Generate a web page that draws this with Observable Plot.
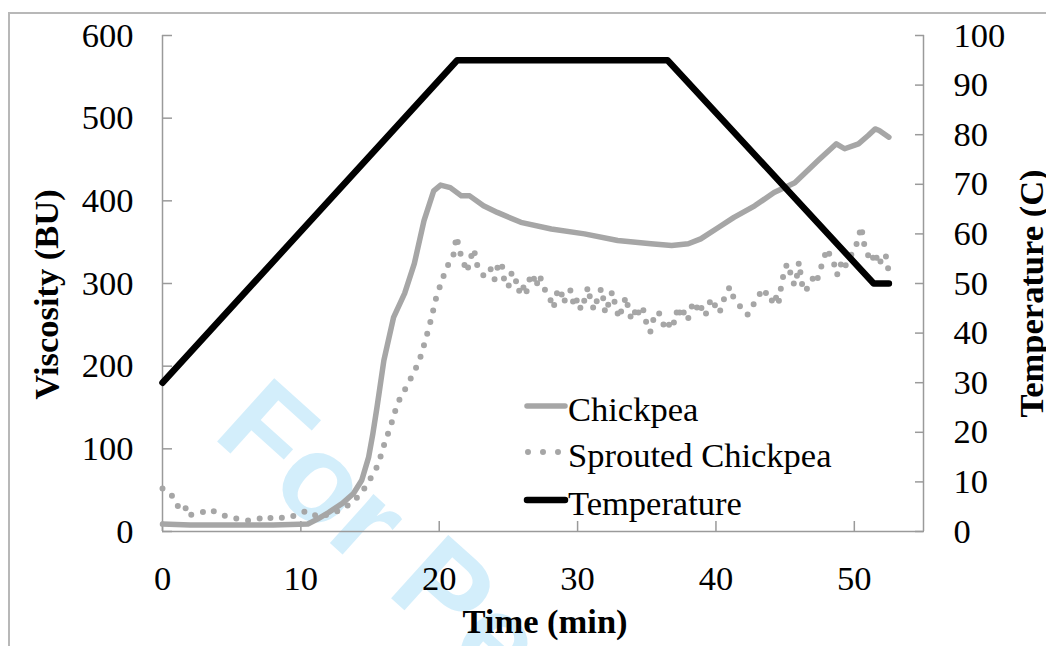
<!DOCTYPE html>
<html><head><meta charset="utf-8">
<script src="https://cdn.jsdelivr.net/npm/d3@7"></script>
<script src="https://cdn.jsdelivr.net/npm/@observablehq/plot@0.6"></script>
<style>
html,body{margin:0;padding:0;background:#fff;}
#wrap{position:relative;width:1046px;height:646px;overflow:hidden;font-family:"Liberation Serif","Times New Roman",serif;}
#frame{position:absolute;left:8px;top:12px;right:-10px;bottom:-10px;border-left:2px solid #b8b8b8;border-top:2px solid #b8b8b8;}
.layer{position:absolute;left:0;top:0;}
</style></head>
<body><div id="wrap">
<div id="frame"></div>
<svg class="layer" id="wm" width="1046" height="646">
  <text x="211" y="436" transform="rotate(42 211 436)" font-family="Liberation Sans, Arial, sans-serif" font-weight="bold" font-size="124" fill="#d3eefb">For Peer Review</text>
</svg>
<div class="layer" id="chart"></div>
<svg class="layer" id="legend" width="1046" height="646"></svg>
</div>
<script>
// ---- data ----
const xTicks = [0, 10, 20, 30, 40, 50];
const viscTicks = [0, 100, 200, 300, 400, 500, 600];
const tempTicks = [0, 10, 20, 30, 40, 50, 60, 70, 80, 90, 100];

// Chickpea viscosity (BU) vs time (min)
const chickpeaTime = [0, 2, 5, 8, 10.5, 11.2, 12, 13, 13.8, 14.4, 14.9, 15.2, 15.5, 16.0, 16.7, 17.5, 18.2, 18.9, 19.6, 20.1, 20.8, 21.6, 22.2, 23.2, 24.2, 25.9, 28.1, 30.5, 32.9, 35.3, 36.8, 38.0, 38.9, 40.2, 41.3, 42.8, 44.2, 45.7, 47.4, 48.7, 49.3, 50.3, 51.0, 51.5, 51.8, 52.5];
const chickpeaVisc = [9, 8, 8, 8, 9, 15, 23, 34, 46, 62, 90, 118, 150, 207, 259, 288, 324, 376, 412, 419, 416, 406, 406, 394, 386, 374, 366, 360, 352, 348, 346, 348, 354, 368, 380, 394, 410, 422, 449, 469, 463, 469, 479, 487, 485, 477];

// Sprouted chickpea viscosity (BU), sampled every 0.25 min from 0
const sproutedStep = 0.25;
const sproutedVisc = [
 52, 50, 47, 42, 33, 28, 24, 30, 20, 21, 22, 23, 24, 26, 27, 24, 22, 21, 19, 17,
 17, 16, 15, 15, 14, 13, 14, 15, 16, 13, 15, 16, 17, 15, 16, 17, 18, 17, 19, 21,
 22, 24, 22, 19, 20, 18, 17, 19, 22, 23, 24, 25, 27, 30, 33, 36, 40, 44, 50, 56,
 63, 71, 78, 90, 104, 116, 128, 142, 156, 163, 171, 179, 187, 195, 205, 216, 232, 246, 263, 281,
 294, 306, 318, 326, 332, 357, 338, 326, 314, 330, 342, 322, 316, 308, 312, 318, 305, 322, 326, 298,
 296, 314, 306, 290, 300, 286, 304, 312, 296, 310, 298, 288, 282, 270, 288, 294, 276, 288, 292, 272,
 282, 268, 280, 296, 274, 268, 288, 294, 264, 276, 290, 272, 258, 272, 284, 262, 256, 272, 260, 268,
 250, 241, 258, 266, 262, 248, 244, 258, 252, 272, 258, 268, 258, 272, 278, 264, 272, 262, 276, 282,
 270, 264, 278, 288, 296, 284, 280, 272, 266, 262, 266, 276, 282, 290, 294, 282, 278, 288, 274, 300,
 320, 324, 302, 298, 326, 296, 290, 302, 306, 300, 316, 326, 342, 334, 326, 310, 324, 316, 328, 334,
 340, 352, 369, 344, 334, 326, 338, 322, 330, 336, 313
];

// Temperature (C)
const tempTime = [0, 21.3, 36.5, 51.4, 52.5];
const tempValue = [30, 95, 95, 50, 50];

const seriesNames = ["Chickpea", "Sprouted Chickpea", "Temperature"];
const titles = {y: "Viscosity (BU)", y2: "Temperature (C)", x: "Time (min)"};

// ---- build ----
const tempToVisc = 600 / 100;
const chickpea = chickpeaTime.map((t, i) => ({t, v: chickpeaVisc[i]}));
const sprouted = sproutedVisc.map((v, i) => ({t: i * sproutedStep, v}));
const temperature = tempTime.map((t, i) => ({t, v: tempValue[i] * tempToVisc}));

const gray = "#a6a6a6";
const axisGray = "#9a9a9a";
const serif = "'Liberation Serif', 'Times New Roman', serif";
const fs = 34.5;

const chart = Plot.plot({
  width: 1046,
  height: 646,
  marginLeft: 162,
  marginRight: 123,
  marginTop: 35,
  marginBottom: 115,
  style: {background: "none", fontFamily: serif, fontSize: fs + "px", color: "black", overflow: "visible"},
  x: {domain: [0, 55]},
  y: {domain: [0, 600]},
  marks: [
    Plot.ruleX([0, 55], {stroke: axisGray, strokeWidth: 1.5}),
    Plot.ruleY([0], {stroke: axisGray, strokeWidth: 1.5}),
    Plot.axisX({ticks: xTicks, tickSize: -10, tickPadding: 44, stroke: axisGray, strokeWidth: 1.5, label: null, fontSize: fs}),
    Plot.axisY({anchor: "left", ticks: viscTicks, tickSize: -10, tickPadding: 39, stroke: axisGray, strokeWidth: 1.5, label: null, fontSize: fs}),
    Plot.axisY({anchor: "right", ticks: tempTicks.map(d => d * tempToVisc), tickFormat: d => String(Math.round(d / tempToVisc)), tickSize: -9, tickPadding: 39, stroke: axisGray, strokeWidth: 1.5, label: null, fontSize: fs}),
    Plot.line(chickpea, {x: "t", y: "v", stroke: gray, strokeWidth: 5.5, strokeLinejoin: "round", strokeLinecap: "round"}),
    Plot.line(sprouted, {x: "t", y: "v", stroke: gray, strokeWidth: 6, strokeDasharray: "0 12", strokeLinecap: "round", strokeLinejoin: "round"}),
    Plot.line(temperature, {x: "t", y: "v", stroke: "black", strokeWidth: 6.5, strokeLinejoin: "round"}),
    Plot.text([titles.y], {text: d => d, frameAnchor: "left", textAnchor: "middle", dx: -116, dy: 11, rotate: -90, fontSize: fs, fontWeight: "bold", fill: "black"}),
    Plot.text([titles.y2], {text: d => d, frameAnchor: "right", textAnchor: "middle", dx: 108, dy: 10, rotate: -90, fontSize: fs, fontWeight: "bold", fill: "black"}),
    Plot.text([titles.x], {text: d => d, frameAnchor: "bottom", textAnchor: "middle", dx: 2, dy: 101, fontSize: fs, fontWeight: "bold", fill: "black"})
  ]
});
document.getElementById("chart").appendChild(chart);

// ---- legend (inside plot area) ----
const lg = d3.select("#legend");
const rows = [
  {name: seriesNames[0], y: 406, kind: "solid", color: gray, w: 5.5},
  {name: seriesNames[1], y: 452, kind: "dots", color: gray, w: 6},
  {name: seriesNames[2], y: 500, kind: "solid", color: "black", w: 6.5}
];
rows.forEach(r => {
  if (r.kind === "solid") {
    lg.append("line").attr("x1", 527).attr("x2", 565).attr("y1", r.y).attr("y2", r.y)
      .attr("stroke", r.color).attr("stroke-width", r.w).attr("stroke-linecap", "round");
  } else {
    lg.append("line").attr("x1", 528).attr("x2", 560).attr("y1", r.y).attr("y2", r.y)
      .attr("stroke", r.color).attr("stroke-width", r.w).attr("stroke-linecap", "round")
      .attr("stroke-dasharray", "0 15");
  }
  lg.append("text").attr("x", 568).attr("y", r.y + 15)
    .attr("font-family", serif).attr("font-size", fs).attr("fill", "black").text(r.name);
});
</script>
</body></html>
